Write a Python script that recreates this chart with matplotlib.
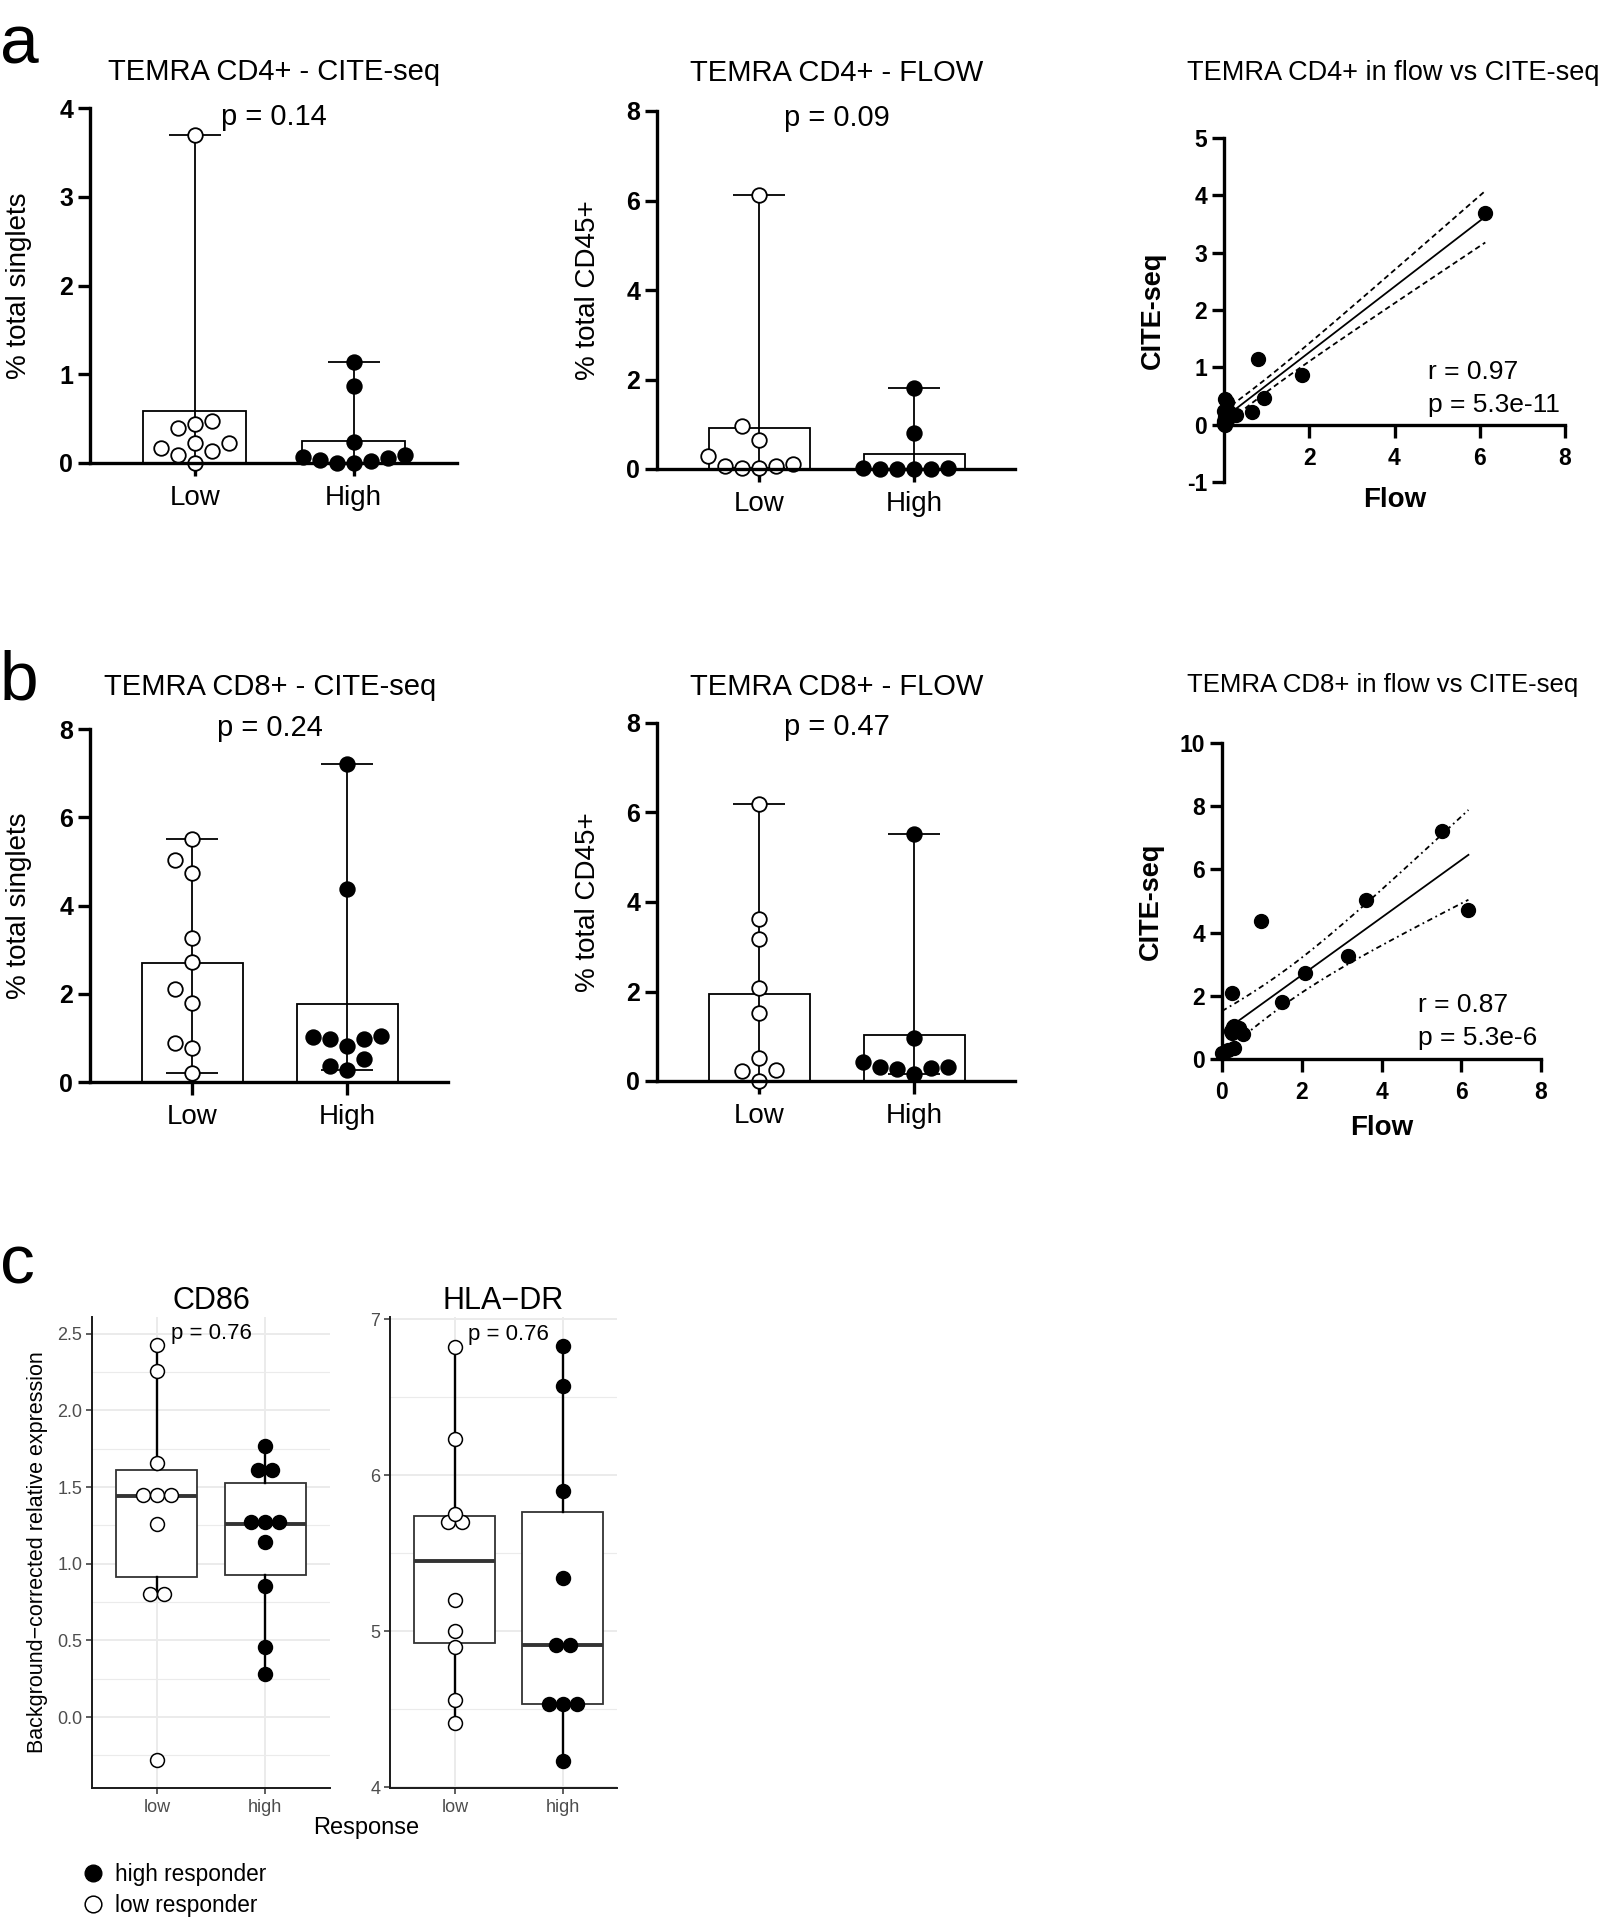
import numpy as np
import matplotlib
matplotlib.use('Agg')
import matplotlib.pyplot as plt
from matplotlib.lines import Line2D

plt.rcParams['font.family'] = ['Liberation Sans', 'DejaVu Sans']
plt.rcParams['axes.unicode_minus'] = False

# -- group labels
groups = ['Low', 'High']
groups_c = ['low', 'high']

# -- panel a: TEMRA CD4+ (% of cells), low / high responders
cd4_cite_low = [3.70, 0.39, 0.44, 0.47, 0.22, 0.17, 0.14, 0.09, 0.22, 0.00]
cd4_cite_high = [1.14, 0.87, 0.24, 0.02, 0.07, 0.03, 0.09, 0.00, 0.06, 0.00]
cd4_flow_low = [6.13, 0.95, 0.65, 0.28, 0.02, 0.06, 0.11, 0.02, 0.06]
cd4_flow_high = [1.82, 0.80, 0.01, 0.03, 0.00, 0.03, 0.00, 0.01]

# -- panel b: TEMRA CD8+
cd8_cite_low = [5.50, 5.03, 4.73, 3.26, 2.73, 2.10, 1.79, 0.89, 0.78, 0.20]
cd8_cite_high = [7.21, 4.37, 0.98, 1.02, 0.98, 1.04, 0.81, 0.53, 0.28, 0.36]
cd8_flow_low = [6.18, 3.61, 3.17, 2.07, 1.51, 0.52, 0.24, 0.22, 0.00]
cd8_flow_high = [5.51, 0.97, 0.28, 0.42, 0.26, 0.31, 0.15, 0.31]

# -- flow vs CITE-seq pairs
cd4_pair_flow = [6.13, 0.80, 1.82, 0.95, 0.65, 0.28, 0.02, 0.06, 0.11, 0.02, 0.06, 0.01, 0.03, 0.00, 0.03, 0.00, 0.01]
cd4_pair_cite = [3.70, 1.14, 0.87, 0.47, 0.22, 0.17, 0.44, 0.39, 0.22, 0.14, 0.09, 0.24, 0.07, 0.03, 0.00, 0.06, 0.02]
cd8_pair_flow = [5.51, 3.61, 6.18, 0.97, 3.17, 2.07, 1.51, 0.24, 0.28, 0.42, 0.52, 0.22, 0.31, 0.31, 0.15, 0.00, 0.26]
cd8_pair_cite = [7.21, 5.03, 4.73, 4.37, 3.26, 2.73, 1.79, 2.10, 1.02, 0.98, 0.78, 0.89, 1.04, 0.36, 0.28, 0.20, 0.81]

# -- panel c: background-corrected relative expression
cd86_low = [2.43, 2.26, 1.66, 1.46, 1.45, 1.43, 1.26, 0.80, 0.80, -0.28]
cd86_high = [1.77, 1.61, 1.61, 1.29, 1.27, 1.25, 1.14, 0.855, 0.46, 0.28]
hladr_low = [6.82, 6.23, 5.75, 5.70, 5.70, 5.20, 5.00, 4.90, 4.56, 4.41]
hladr_high = [6.83, 6.57, 5.90, 5.34, 4.91, 4.91, 4.53, 4.53, 4.53, 4.17]

p_bars = ['p = 0.14', 'p = 0.09', 'p = 0.24', 'p = 0.47']
corr_text = [('r = 0.97', 'p = 5.3e-11'), ('r = 0.87', 'p = 5.3e-6')]
p_box = ['p = 0.76', 'p = 0.76']

T95 = 2.131  # t(0.975, df=15)

W, H = 1603, 1920
fig = plt.figure(figsize=(W / 100, H / 100), dpi=100)


def add_axes(x0, y0, x1, y1):
    return fig.add_axes([x0 / W, 1 - y1 / H, (x1 - x0) / W, (y1 - y0) / H])


def ftext(x, y, s, **kw):
    kw.setdefault('ha', 'center')
    kw.setdefault('va', 'center')
    return fig.text(x / W, 1 - y / H, s, **kw)


def bold_ticks(ax):
    for lab in ax.get_xticklabels() + ax.get_yticklabels():
        lab.set_fontweight('bold')


def swarm(ax, pos, vals, step=17.0):
    vals = np.sort(np.asarray(vals, float))
    tr = ax.transData.transform
    cx = tr((pos, 0))[0]
    xu = tr((pos + 1, 0))[0] - cx
    placed, xs = [], []
    for v in vals:
        py = tr((pos, v))[1]
        for k in [0, -1, 1, -2, 2, -3, 3, -4, 4, -5, 5]:
            px = cx + k * step
            if all(np.hypot(px - qx, py - qy) >= 0.9 * step for qx, qy in placed):
                break
        placed.append((px, py))
        xs.append(pos + k * step / xu)
    return np.array(xs), vals


def stacked(ax, pos, vals, step=14.0, tol=5.0):
    vals = np.sort(np.asarray(vals, float))
    tr = ax.transData.transform
    xu = tr((pos + 1, 0))[0] - tr((pos, 0))[0]
    yu = tr((0, 1))[1] - tr((0, 0))[1]
    bins = []
    for v in vals:
        if bins and (v - bins[-1][-1]) * yu <= tol:
            bins[-1].append(v)
        else:
            bins.append([v])
    xs, ys = [], []
    for b in bins:
        n = len(b)
        for k in range(n):
            xs.append(pos + (k - (n - 1) / 2) * step / xu)
            ys.append(np.mean(b))
    return xs, ys


def bar_panel(box, low, high, ymax, title, ptext, ylabel, title_y, p_y, ylab_x):
    x0, y0, x1, y1 = box
    ax = add_axes(x0, y0, x1, y1)
    ax.set_xlim(-0.66, 1.65)
    ax.set_ylim(0, ymax)
    for i, vals in enumerate([low, high]):
        vals = np.asarray(vals)
        m = vals.mean()
        ax.bar(i, m, width=0.65, color='white', edgecolor='black', linewidth=1.3, zorder=2)
        ax.errorbar(i, m, yerr=[[m - vals.min()], [vals.max() - m]], fmt='none',
                    ecolor='black', elinewidth=1.3, capsize=19, capthick=1.3, zorder=3)
    for i, (vals, face) in enumerate([(low, 'white'), (high, 'black')]):
        xs, ys = swarm(ax, i, vals)
        ax.scatter(xs, ys, s=110, facecolor=face, edgecolor='black', linewidth=1.3,
                   zorder=4, clip_on=False)
    for sp in ['top', 'right']:
        ax.spines[sp].set_visible(False)
    for sp in ['left', 'bottom']:
        ax.spines[sp].set_linewidth(2.4)
        ax.spines[sp].set_zorder(5)
    ax.set_yticks(np.arange(0, ymax + 0.01, 1 if ymax <= 4 else 2))
    ax.set_xticks([0, 1], groups)
    ax.tick_params(axis='both', length=9, width=2.4)
    ax.tick_params(axis='y', labelsize=18, pad=3)
    ax.tick_params(axis='x', labelsize=20, pad=7)
    for lab in ax.get_yticklabels():
        lab.set_fontweight('bold')
    tr = ax.transData.transform
    mid = (tr((0, 0))[0] + tr((1, 0))[0]) / 2
    ftext(mid, title_y, title, fontsize=21)
    ftext(mid, p_y, ptext, fontsize=21)
    ftext(ylab_x, (y0 + y1) / 2, ylabel, fontsize=20, rotation=90)
    return ax


def corr_panel(box, fx, cy, ylim, yticks, xticks, title, title_size, texts, title_y,
               text_xy, dash, ylab_x, xlab_y):
    x0, y0, x1, y1 = box
    ax = add_axes(x0, y0, x1, y1)
    ax.set_xlim(0, 8)
    ax.set_ylim(*ylim)
    fx = np.asarray(fx)
    cy = np.asarray(cy)
    slope, icpt = np.polyfit(fx, cy, 1)
    n = len(fx)
    resid = cy - (icpt + slope * fx)
    s = np.sqrt(np.sum(resid ** 2) / (n - 2))
    sxx = np.sum((fx - fx.mean()) ** 2)
    xx = np.linspace(fx.min(), fx.max(), 200)
    fit = icpt + slope * xx
    half = T95 * s * np.sqrt(1 / n + (xx - fx.mean()) ** 2 / sxx)
    ax.plot(xx, fit, color='black', lw=1.3, zorder=2)
    ax.plot(xx, fit + half, color='black', lw=1.3, ls=dash, zorder=2)
    ax.plot(xx, fit - half, color='black', lw=1.3, ls=dash, zorder=2)
    ax.scatter(fx, cy, s=100, color='black', zorder=3, clip_on=False)
    for sp in ['top', 'right']:
        ax.spines[sp].set_visible(False)
    for sp in ['left', 'bottom']:
        ax.spines[sp].set_linewidth(2.4)
    ax.spines['bottom'].set_position(('data', 0))
    ax.set_yticks(yticks)
    ax.set_xticks(xticks)
    ax.tick_params(axis='both', length=9, width=2.4, labelsize=16.5)
    ax.tick_params(axis='y', pad=3)
    ax.tick_params(axis='x', pad=7)
    bold_ticks(ax)
    ftext(1187, title_y, title, fontsize=title_size, ha='left')
    ftext(text_xy[0], text_xy[1], texts[0], fontsize=19, ha='left')
    ftext(text_xy[0], text_xy[1] + 33, texts[1], fontsize=19, ha='left')
    tr = ax.transData.transform
    ftext(tr((4, 0))[0], xlab_y, 'Flow', fontsize=20, fontweight='bold')
    ftext(ylab_x, (y0 + y1) / 2, 'CITE-seq', fontsize=19.5, fontweight='bold', rotation=90)
    return ax


def box_panel(box, low, high, ylim, major, minor, labels, xlim, title, ptext, p_y):
    x0, y0, x1, y1 = box
    ax = add_axes(x0, y0, x1, y1)
    ax.boxplot([low, high], positions=[0, 1], widths=0.75, showfliers=False, showcaps=False,
               patch_artist=True,
               boxprops=dict(facecolor='white', edgecolor='#333333', linewidth=1.3),
               medianprops=dict(color='#333333', linewidth=2.8),
               whiskerprops=dict(color='black', linewidth=1.7))
    ax.set_xlim(*xlim)
    ax.set_ylim(*ylim)
    ax.set_yticks(major, labels)
    ax.set_yticks(minor, minor=True)
    ax.set_xticks([0, 1], groups_c)
    ax.grid(which='major', color='#EBEBEB', lw=1.4)
    ax.grid(which='minor', axis='y', color='#EBEBEB', lw=0.8)
    ax.set_axisbelow(True)
    for i, (vals, face) in enumerate([(low, 'white'), (high, 'black')]):
        xs, ys = stacked(ax, i, vals)
        ax.scatter(xs, ys, s=100, facecolor=face, edgecolor='black', linewidth=1.1,
                   zorder=4, clip_on=False)
    for sp in ['top', 'right']:
        ax.spines[sp].set_visible(False)
    for sp in ['left', 'bottom']:
        ax.spines[sp].set_linewidth(1.4)
        ax.spines[sp].set_color('#1a1a1a')
    ax.tick_params(which='major', length=4, width=1.1, color='#333333',
                   labelsize=13, labelcolor='#4D4D4D')
    ax.tick_params(axis='y', pad=3)
    ax.tick_params(axis='x', pad=4)
    ax.tick_params(which='minor', length=0)
    ax.set_title(title, fontsize=22, pad=6)
    ax.text(0.5, p_y, ptext, fontsize=16, ha='center', va='center')
    return ax


# -- row a
bar_panel((90, 108, 457, 463), cd4_cite_low, cd4_cite_high, 4,
          'TEMRA CD4+ - CITE-seq', p_bars[0], '% total singlets', 72, 117, 19)
bar_panel((657, 111, 1015, 469), cd4_flow_low, cd4_flow_high, 8,
          'TEMRA CD4+ - FLOW', p_bars[1], '% total CD45+', 73, 118, 588)
corr_panel((1224, 138, 1565, 482), cd4_pair_flow, cd4_pair_cite, (-1, 5), range(-1, 6),
           [2, 4, 6, 8], 'TEMRA CD4+ in flow vs CITE-seq', 19.5, corr_text[0], 73,
           (1428, 372), (0, (3, 2)), 1153, 500)

# -- row b
bar_panel((90, 729, 448, 1082), cd8_cite_low, cd8_cite_high, 8,
          'TEMRA CD8+ - CITE-seq', p_bars[2], '% total singlets', 687, 728, 19)
bar_panel((657, 723, 1015, 1081), cd8_flow_low, cd8_flow_high, 8,
          'TEMRA CD8+ - FLOW', p_bars[3], '% total CD45+', 687, 727, 588)
corr_panel((1222, 743, 1541, 1059), cd8_pair_flow, cd8_pair_cite, (0, 10), range(0, 11, 2),
           [0, 2, 4, 6, 8], 'TEMRA CD8+ in flow vs CITE-seq', 18.5, corr_text[1], 685,
           (1418, 1005), (0, (3, 2, 1, 2)), 1151, 1128)

# -- row c
cd86_major = np.arange(0, 2.51, 0.5)
box_panel((92, 1317, 330, 1788), cd86_low, cd86_high, (-0.463, 2.61), cd86_major,
          np.arange(-0.25, 2.51, 0.5), ['%.1f' % v for v in cd86_major], (-0.6, 1.6),
          'CD86', p_box[0], 2.5)
box_panel((390, 1317, 617, 1788), hladr_low, hladr_high, (3.994, 7.013), [4, 5, 6, 7],
          [4.5, 5.5, 6.5], ['4', '5', '6', '7'], (-0.6, 1.5),
          'HLA\u2212DR', p_box[1], 6.9)

ftext(38, 1552, 'Background\u2212corrected relative expression', fontsize=15.5, rotation=90)
ftext(366, 1828, 'Response', fontsize=17)

handles = [Line2D([], [], marker='o', ls='', ms=12, mfc='black', mec='black'),
           Line2D([], [], marker='o', ls='', ms=12, mfc='white', mec='black', mew=1.1)]
fig.legend(handles, ['high responder', 'low responder'], loc='center left',
           bbox_to_anchor=(82 / W, 1 - 1890 / H), frameon=False, fontsize=16.3,
           handlelength=1.0, handletextpad=0.45, labelspacing=0.35, borderpad=0,
           borderaxespad=0)

# -- panel letters
ftext(0, 64, 'a', fontsize=50, ha='left', va='baseline')
ftext(0, 700, 'b', fontsize=50, ha='left', va='baseline')
ftext(0, 1283, 'c', fontsize=50, ha='left', va='baseline')

fig.savefig('out.png', dpi=100)
